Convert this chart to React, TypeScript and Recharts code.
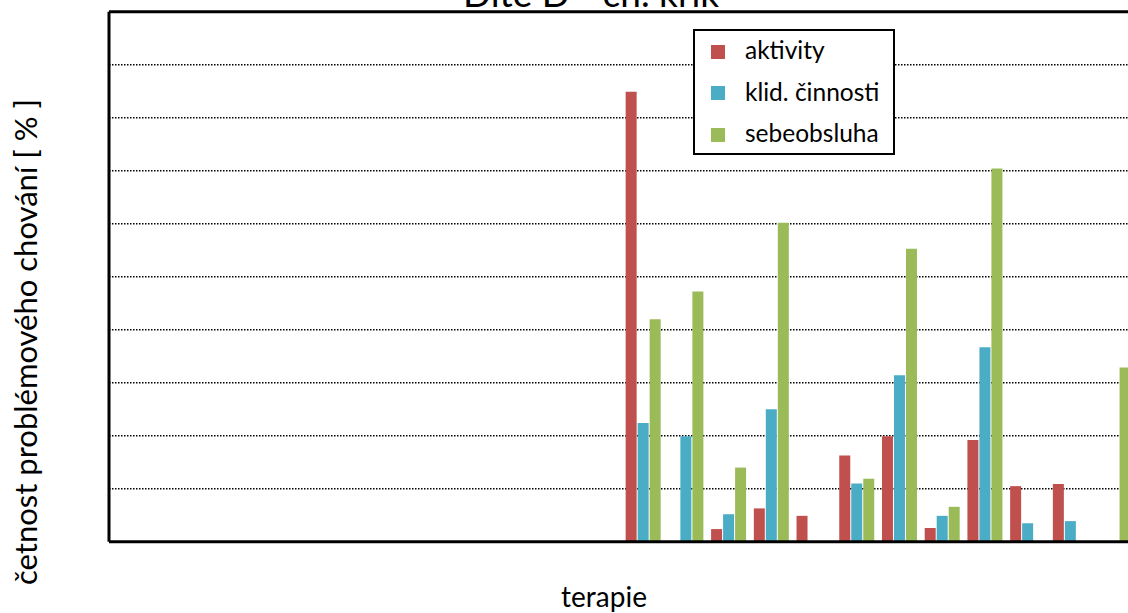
import { BarChart, Bar, XAxis, YAxis, CartesianGrid, ReferenceLine, Legend } from "recharts";

// terapie sessions (no tick labels are shown in the picture)
const sessions = ["1", "2", "3", "4", "5", "6", "7", "8", "9", "10", "11", "12",
  "13", "14", "15", "16", "17", "18", "19", "20", "21", "22", "23", "24"];

// percentages
const aktivity = [0, 0, 0, 0, 0, 0, 0, 0, 0, 0, 0, 0,
  84.9, 0, 2.4, 6.3, 4.9, 16.3, 19.9, 2.6, 19.2, 10.5, 10.9, 0];
const klidCinnosti = [0, 0, 0, 0, 0, 0, 0, 0, 0, 0, 0, 0,
  22.4, 19.9, 5.2, 25.0, 0, 11.0, 31.4, 4.9, 36.7, 3.5, 3.9, 0];
const sebeobsluha = [0, 0, 0, 0, 0, 0, 0, 0, 0, 0, 0, 0,
  42.0, 47.2, 14.0, 60.2, 0, 11.9, 55.3, 6.6, 70.4, 0, 0, 32.9];

const yTicks = [0, 10, 20, 30, 40, 50, 60, 70, 80, 90, 100];

const data = sessions.map((s, i) => ({
  session: s,
  aktivity: aktivity[i],
  klid: klidCinnosti[i],
  sebe: sebeobsluha[i],
}));

const series = [
  { key: "aktivity", name: "aktivity", color: "#C0504D" },
  { key: "klid", name: "klid. činnosti", color: "#4BACC6" },
  { key: "sebe", name: "sebeobsluha", color: "#9BBB59" },
];

const FONT = "Lato, 'Open Sans', sans-serif";

const NoTick = () => <g />;

function LegendBox() {
  return (
    <div
      style={{
        boxSizing: "border-box",
        width: 202,
        height: 126,
        border: "2px solid #000",
        background: "#fff",
        padding: "0 0 0 16px",
        fontFamily: FONT,
        fontSize: 24.5,
        color: "#000",
      }}
    >
      {series.map((s) => (
        <div key={s.key} style={{ display: "flex", alignItems: "center", height: 41.5 }}>
          <span style={{ width: 14, height: 14, background: s.color, marginRight: 20, flex: "none" }} />
          <span style={{ lineHeight: "24px", marginTop: -3 }}>{s.name}</span>
        </div>
      ))}
    </div>
  );
}

export default function App() {
  return (
    <div
      style={{
        position: "absolute",
        left: 0,
        top: 0,
        width: 1128,
        height: 613,
        overflow: "hidden",
        background: "#fff",
      }}
    >
      <BarChart
        width={1200}
        height={613}
        data={data}
        margin={{ top: 11.7, right: 65.7, bottom: 70.2, left: 108 }}
        barSize={11}
        barGap={1}
      >
        <CartesianGrid vertical={false} stroke="#000" strokeDasharray="1.5 1.5" strokeWidth={1.5} />
        <XAxis dataKey="session" height={1} tick={NoTick} tickLine={false} axisLine={{ stroke: "#000", strokeWidth: 3 }} />
        <YAxis domain={[0, 100]} ticks={yTicks} width={1} tick={NoTick} tickLine={false} axisLine={{ stroke: "#000", strokeWidth: 3 }} />
        <ReferenceLine y={100} stroke="#000" strokeWidth={3} />
        <Legend
          content={<LegendBox />}
          verticalAlign="middle"
          wrapperStyle={{ left: 693, top: 29, width: 202, height: 126 }}
        />
        {series.map((s) => (
          <Bar key={s.key} dataKey={s.key} name={s.name} fill={s.color} isAnimationActive={false} />
        ))}
      </BarChart>
      <svg
        width={1128}
        height={613}
        style={{ position: "absolute", left: 0, top: 0, pointerEvents: "none" }}
        fontFamily={FONT}
      >
        <text x={591} y={7} textAnchor="middle" fontSize={37} fill="#000">
          Dítě D - ch. křik
        </text>
        <text x={604} y={607} textAnchor="middle" fontSize={28} fill="#000">
          terapie
        </text>
        <text transform="translate(37, 342) rotate(-90)" textAnchor="middle" fontSize={31} fill="#000">
          četnost problémového chování [ % ]
        </text>
      </svg>
    </div>
  );
}
